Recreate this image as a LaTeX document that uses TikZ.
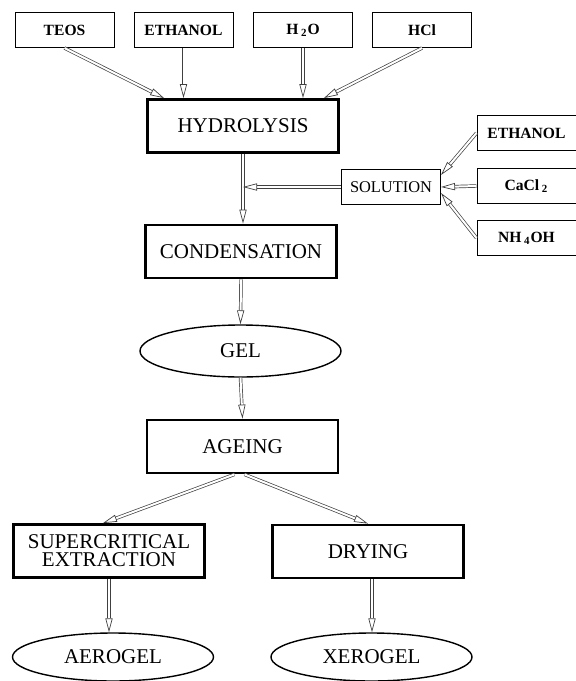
\documentclass[tikz,border=0pt]{standalone}
\usepackage{fontspec}
\setmainfont{Liberation Serif}
\usetikzlibrary{arrows.meta,shapes.geometric}

\begin{document}
\begin{tikzpicture}[x=0.5pt,y=-0.5pt,
  inbox/.style={draw,line width=0.5pt,minimum width=49.5pt,minimum height=17.5pt,inner sep=1pt,font=\fontsize{7.8}{9}\selectfont\bfseries},
  stepbox/.style={draw,line width=1.4pt,minimum width=95.5pt,minimum height=26.5pt,inner sep=1pt,align=center,font=\fontsize{10.5}{9}\selectfont},
  result/.style={draw,ellipse,line width=0.7pt,minimum width=100.5pt,minimum height=26pt,inner sep=0pt,font=\fontsize{10.5}{12}\selectfont},
  flow/.style={draw=black!75,line width=0.35pt,double,double distance=1pt,-{Triangle[open,length=7pt,width=3.6pt]}}]

\useasboundingbox (0,0) rectangle (576,681);

\node[inbox] (teos) at (64.5,30) {TEOS};
\node[inbox] (eth) at (183.5,30) {ETHANOL};
\node[inbox] (water) at (303,30) {H\,\textsubscript{2}O};
\node[inbox] (hcl) at (422,30) {HCl};
\node[stepbox] (hyd) at (243,126) {HYDROLYSIS};
\draw[flow] (teos.south) -- ([xshift=9pt]hyd.north west);
\draw[flow] (eth.south) -- (eth.south |- hyd.north);
\draw[flow] (water.south) -- (water.south |- hyd.north);
\draw[flow] (hcl.south) -- ([xshift=-8pt]hyd.north east);

\node[inbox,font=\fontsize{8.2}{9}\selectfont] (sol) at (391,187) {SOLUTION};
\node[inbox] (eth2) at (526.5,133) {ETHANOL};
\node[inbox] (cacl) at (526.5,186) {CaCl\,\textsubscript{2}};
\node[inbox] (nh) at (526.5,238) {NH\,\textsubscript{4}OH};
\draw[flow] (eth2.west) -- ([yshift=6pt]sol.east);
\draw[flow] (cacl.west) -- (sol.east);
\draw[flow] (nh.west) -- ([yshift=-3pt]sol.east);

\node[stepbox] (cond) at (241,251.5) {CONDENSATION};
\coordinate (j) at (hyd.south |- sol.west);
\draw[flow] (hyd.south) -- (hyd.south |- cond.north);
\draw[flow] (sol.west) -- (j);

\node[result] (gel) at (240.5,351) {GEL};
\node[stepbox] (age) at (242.5,446.5) {AGEING};
\draw[flow] (cond.south) -- (gel.north);
\draw[flow] (gel.south) -- (age.north);

\node[stepbox] (sce) at (109,551) {SUPERCRITICAL\\EXTRACTION};
\node[stepbox] (dry) at (368,551.5) {DRYING};
\draw[flow] ([xshift=-4pt]age.south) -- ([xshift=-3pt]sce.north);
\draw[flow] ([xshift=1pt]age.south) -- (dry.north);

\node[result,minimum height=24pt] (aero) at (113,657) {AEROGEL};
\node[result,minimum height=24pt] (xero) at (371.5,657) {XEROGEL};
\draw[flow] (sce.south) -- (sce.south |- aero.north);
\draw[flow] ([xshift=2pt]dry.south) -- ([xshift=2pt]dry.south |- xero.north);
\end{tikzpicture}
\end{document}
